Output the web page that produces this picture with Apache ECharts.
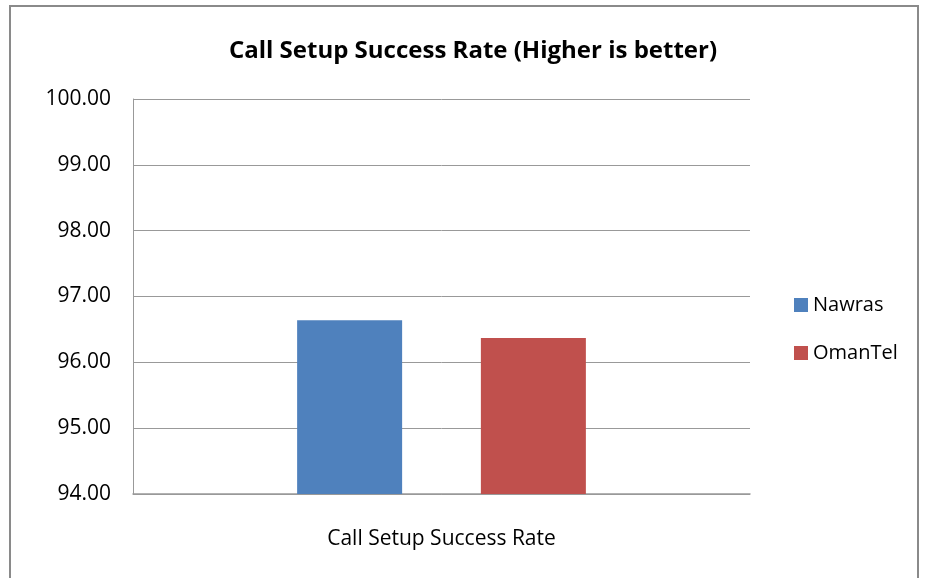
<!DOCTYPE html>
<html>
<head>
<meta charset="utf-8">
<script src="https://cdn.jsdelivr.net/npm/echarts@6/dist/echarts.min.js"></script>
<style>
html, body { margin: 0; padding: 0; background: #fff; }
#chart { width: 928px; height: 578px; }
</style>
</head>
<body>
<div id="chart"></div>
<script>
var categories = ['Call Setup Success Rate'];
var seriesNames = ['Nawras', 'OmanTel'];
var nawras = [96.64];
var omantel = [96.37];
var colors = ['#4f81bd', '#c0504d'];

var font = '"Liberation Sans Narrow", "Open Sans", sans-serif';

var chart = echarts.init(document.getElementById('chart'));
var option = {
	animation: false,
	backgroundColor: '#fff',
	title: {
		text: 'Call Setup Success Rate (Higher is better)',
		left: 468,
		textAlign: 'center',
		top: 34,
		textStyle: { fontFamily: font, fontSize: 24, fontWeight: 'bold', color: '#000' }
	},
	legend: {
		orient: 'vertical',
		left: 789,
		top: 290,
		itemGap: 28,
		itemWidth: 14,
		itemHeight: 14,
		icon: 'rect',
		textStyle: { fontFamily: font, fontSize: 20, color: '#000' },
		data: seriesNames
	},
	grid: { left: 133, right: 178, top: 99, bottom: 84 },
	xAxis: {
		type: 'category',
		data: categories,
		axisLine: { lineStyle: { color: '#999', width: 1.5 } },
		axisTick: { show: false },
		axisLabel: { margin: 35, fontFamily: font, fontSize: 21, color: '#000' }
	},
	yAxis: {
		type: 'value',
		min: 94,
		max: 100,
		interval: 1,
		axisLine: { show: true, lineStyle: { color: '#999' } },
		axisTick: { show: false },
		splitLine: { lineStyle: { color: '#999', width: 1 } },
		axisLabel: {
			margin: 22,
			fontFamily: font, fontSize: 21, color: '#000',
			formatter: function(v) { return v.toFixed(2); }
		}
	},
	series: [{
		name: seriesNames[0],
		type: 'bar',
		data: nawras,
		barWidth: 105,
		barGap: '75%',
		itemStyle: { color: colors[0] }
	}, {
		name: seriesNames[1],
		type: 'bar',
		data: omantel,
		barWidth: 105,
		itemStyle: { color: colors[1] }
	}],
	graphic: [{
		type: 'rect',
		shape: { x: 10, y: 6, width: 908, height: 600 },
		style: { fill: 'none', stroke: '#8a8a8a', lineWidth: 2 },
		silent: true
	}]
};
chart.setOption(option);
</script>
</body>
</html>
